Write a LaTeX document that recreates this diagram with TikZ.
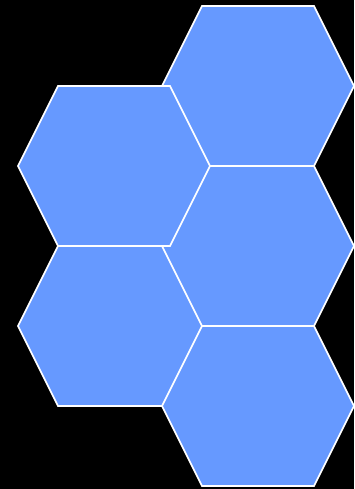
\documentclass[tikz,border=0pt]{standalone}
\definecolor{hexblue}{HTML}{6699FF}
\tikzset{
  hexcell/.style={fill=hexblue, draw=white, line width=1.6pt, line join=miter},
}
\newcommand{\hexat}[2]{%
  \draw[hexcell] (#1,#2) -- ++(40,-80) -- ++(112,0) -- ++(40,80) -- ++(-40,80) -- ++(-112,0) -- cycle;}
\begin{document}
\begin{tikzpicture}[x=1pt,y=-1pt]
  \fill[black] (0,0) rectangle (354,489);
  \useasboundingbox (0,0) rectangle (354,489);
  \hexat{162}{86}
  \hexat{18}{326}
  \hexat{162}{246}
  \hexat{162}{406}
  \hexat{18}{166}
\end{tikzpicture}
\end{document}
